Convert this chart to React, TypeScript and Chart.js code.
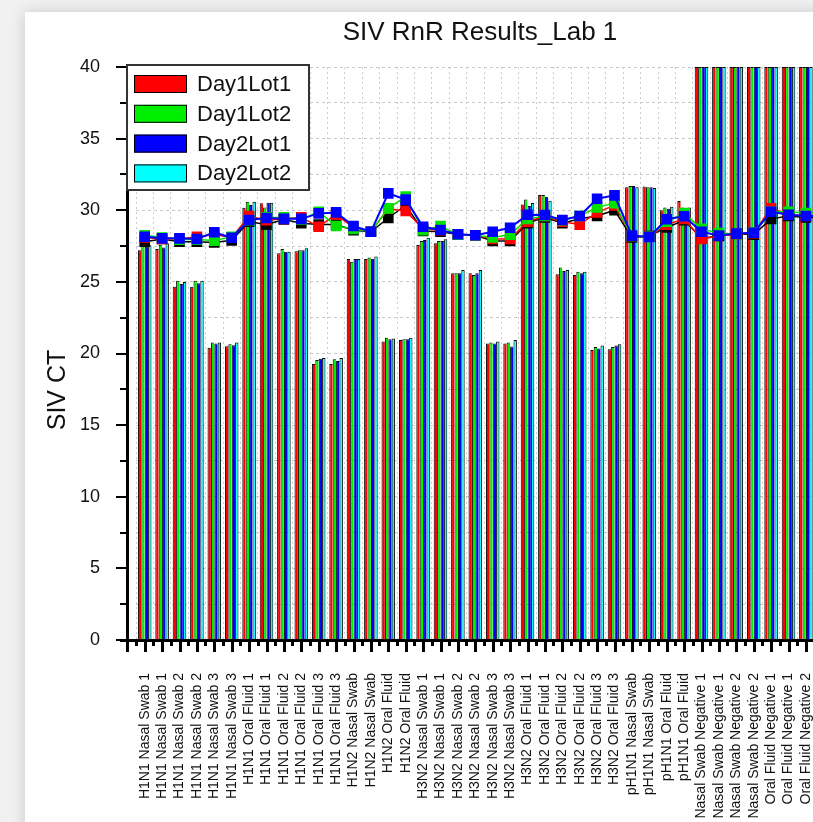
import React, { useEffect, useRef } from 'react';
import { Chart, registerables } from 'chart.js';
Chart.register(...registerables);

const chartTitle = 'SIV RnR Results_Lab 1';
const yAxisTitle = 'SIV CT';

const categories = [
  'H1N1 Nasal Swab 1', 'H1N1 Nasal Swab 1', 'H1N1 Nasal Swab 2', 'H1N1 Nasal Swab 2', 'H1N1 Nasal Swab 3', 'H1N1 Nasal Swab 3',
  'H1N1 Oral Fluid 1', 'H1N1 Oral Fluid 1', 'H1N1 Oral Fluid 2', 'H1N1 Oral Fluid 2', 'H1N1 Oral Fluid 3', 'H1N1 Oral Fluid 3',
  'H1N2 Nasal Swab', 'H1N2 Nasal Swab', 'H1N2 Oral Fluid', 'H1N2 Oral Fluid',
  'H3N2 Nasal Swab 1', 'H3N2 Nasal Swab 1', 'H3N2 Nasal Swab 2', 'H3N2 Nasal Swab 2', 'H3N2 Nasal Swab 3', 'H3N2 Nasal Swab 3',
  'H3N2 Oral Fluid 1', 'H3N2 Oral Fluid 1', 'H3N2 Oral Fluid 2', 'H3N2 Oral Fluid 2', 'H3N2 Oral Fluid 3', 'H3N2 Oral Fluid 3',
  'pH1N1 Nasal Swab', 'pH1N1 Nasal Swab', 'pH1N1 Oral Fluid', 'pH1N1 Oral Fluid',
  'Nasal Swab Negative 1', 'Nasal Swab Negative 1', 'Nasal Swab Negative 2', 'Nasal Swab Negative 2',
  'Oral Fluid Negative 1', 'Oral Fluid Negative 1', 'Oral Fluid Negative 2', 'Oral Fluid Negative 2',
];

const seriesNames = ['Day1Lot1', 'Day1Lot2', 'Day2Lot1', 'Day2Lot2'];
const seriesColors = ['#ff0000', '#00ee00', '#0000ff', '#00ffff'];

const day1Lot1 = [27.2, 27.3, 24.66, 24.66, 20.4, 20.5, 30.18, 30.48, 27.0, 27.13, 19.27, 19.27, 26.6, 26.6, 20.83, 20.94, 27.57, 27.7, 25.6, 25.6, 20.7, 20.7, 30.4, 31.06, 25.53, 25.48, 20.25, 20.3, 31.6, 31.65, 30.0, 30.65, 40, 40, 40, 40, 40, 40, 40, 40];
const day1Lot2 = [27.5, 27.6, 25.08, 25.08, 20.76, 20.64, 30.6, 30.2, 27.3, 27.2, 19.55, 19.6, 26.4, 26.7, 21.1, 21.0, 27.85, 27.85, 25.6, 25.48, 20.76, 20.76, 30.75, 31.06, 26.0, 25.7, 20.45, 20.45, 31.7, 31.6, 30.2, 30.2, 40, 40, 40, 40, 40, 40, 40, 40];
const day2Lot1 = [27.45, 27.4, 24.85, 24.9, 20.7, 20.57, 30.37, 30.53, 27.1, 27.2, 19.64, 19.48, 26.6, 26.62, 21.0, 21.0, 27.92, 27.85, 25.6, 25.6, 20.7, 20.48, 30.3, 30.95, 25.76, 25.6, 20.35, 20.55, 31.7, 31.6, 30.1, 30.1, 40, 40, 40, 40, 40, 40, 40, 40];
const day2Lot2 = [27.55, 27.7, 25.0, 25.08, 20.76, 20.76, 30.6, 30.53, 27.1, 27.35, 19.69, 19.69, 26.6, 26.77, 21.05, 21.1, 28.08, 27.97, 25.83, 25.83, 20.83, 20.94, 30.5, 30.67, 25.83, 25.7, 20.55, 20.65, 31.6, 31.55, 30.25, 30.2, 40, 40, 40, 40, 40, 40, 40, 40];

// Overlaid marker lines (control CT values)
const lineRed = [28.1, 28.0, 28.0, 28.15, 28.3, 28.1, 29.6, 29.3, 29.4, 29.5, 28.85, 29.7, 28.8, 28.5, 30.1, 29.95, 28.7, 28.6, 28.3, 28.25, 28.0, 28.0, 29.2, 29.6, 29.2, 29.0, 29.85, 30.34, 28.2, 28.15, 29.0, 29.4, 28.0, 28.2, 28.35, 28.4, 30.14, 29.7, 29.6, 29.6];
const lineGreen = [28.25, 28.1, 27.95, 27.95, 27.88, 28.15, 29.3, 29.5, 29.5, 29.35, 29.9, 28.9, 28.7, 28.5, 30.13, 30.95, 28.6, 28.9, 28.3, 28.25, 28.1, 28.3, 29.4, 29.6, 29.3, 29.6, 30.2, 30.5, 28.2, 28.15, 29.2, 29.8, 28.7, 28.4, 28.35, 28.45, 29.9, 29.9, 29.8, 29.8];
const lineBlack = [27.8, 28.0, 27.8, 27.8, 27.75, 27.9, 29.2, 29.0, 29.35, 29.1, 29.0, 29.0, 28.6, 28.5, 29.46, 30.35, 28.55, 28.5, 28.3, 28.25, 27.85, 27.85, 29.1, 29.5, 29.1, 29.4, 29.6, 30.0, 28.1, 28.2, 28.8, 29.3, 28.05, 28.2, 28.35, 28.3, 29.4, 29.6, 29.5, 29.5];
const lineBlue = [28.15, 28.04, 28.04, 27.99, 28.46, 28.08, 29.32, 29.46, 29.4, 29.4, 29.78, 29.85, 28.9, 28.5, 31.18, 30.74, 28.85, 28.62, 28.32, 28.25, 28.5, 28.78, 29.69, 29.67, 29.32, 29.6, 30.8, 31.04, 28.23, 28.13, 29.37, 29.58, 28.5, 28.23, 28.37, 28.43, 29.9, 29.69, 29.6, 29.6];

const yTickLabels = [0, 5, 10, 15, 20, 25, 30, 35, 40];
const yMin = 0;
const yMax = 40;
const yStep = 2.5;

const FONT = 'Arial, "Liberation Sans", sans-serif';
const TEXT = '#111';

const decorPlugin = {
  id: 'decor',
  afterDraw(chart: any) {
    const { ctx, chartArea: ca, scales } = chart;
    const x = scales.x;
    const y = scales.y;
    ctx.save();
    ctx.fillStyle = '#000';
    const axX = ca.left - 8;
    const yTop = y.getPixelForValue(yMax);
    // y axis line
    ctx.fillRect(axX - 2, yTop - 2, 3, ca.bottom - yTop + 14);
    // x axis line
    ctx.fillRect(axX - 8, ca.bottom - 1, ca.right - axX + 40, 3);
    // y ticks
    for (let v = yMin; v <= yMax + 0.001; v += yStep) {
      const py = Math.round(y.getPixelForValue(v));
      const major = yTickLabels.includes(v);
      const len = major ? 10 : 6;
      ctx.fillRect(axX - 2 - len, py - 1, len, 2);
    }
    // x ticks
    const step = x.getPixelForValue(1) - x.getPixelForValue(0);
    for (let i = 0; i < categories.length; i++) {
      const px = Math.round(x.getPixelForValue(i));
      ctx.fillRect(px - 1, ca.bottom, 3, 12);
      const pb = Math.round(px - step / 2);
      ctx.fillRect(pb - 1, ca.bottom, 3, 6);
    }
    // legend
    const lx = axX - 1, ly = 53, lw = 182, lh = 125;
    ctx.fillStyle = '#fff';
    ctx.fillRect(lx, ly, lw, lh);
    ctx.strokeStyle = '#333';
    ctx.lineWidth = 2;
    ctx.strokeRect(lx, ly, lw, lh);
    ctx.font = `22px ${FONT}`;
    ctx.textBaseline = 'middle';
    ctx.textAlign = 'left';
    for (let i = 0; i < seriesNames.length; i++) {
      const cy = 72 + i * 29.8;
      ctx.fillStyle = seriesColors[i];
      ctx.fillRect(lx + 7, cy - 9, 53, 18);
      ctx.strokeStyle = '#000';
      ctx.lineWidth = 1;
      ctx.strokeRect(lx + 7.5, cy - 8.5, 52, 17);
      ctx.fillStyle = TEXT;
      ctx.fillText(seriesNames[i], lx + 70, cy + 1);
    }
    // title
    ctx.font = `26px ${FONT}`;
    ctx.textAlign = 'center';
    ctx.fillStyle = TEXT;
    ctx.fillText(chartTitle, chart.width / 2, 21);
    // y axis title
    ctx.translate(33, 378);
    ctx.rotate(-Math.PI / 2);
    ctx.font = `25px ${FONT}`;
    ctx.fillText(yAxisTitle, 0, 0);
    ctx.restore();
  },
};

function App() {
  const ref = useRef<HTMLCanvasElement | null>(null);
  useEffect(() => {
    if (!ref.current) return;
    const barSets = [day1Lot1, day1Lot2, day2Lot1, day2Lot2].map((d, i) => ({
      type: 'bar' as const,
      label: seriesNames[i],
      data: d,
      backgroundColor: seriesColors[i],
      borderColor: '#000',
      borderWidth: { top: 1, left: 1, right: i === 3 ? 1 : 0, bottom: 0 },
      borderSkipped: 'bottom' as const,
      categoryPercentage: 0.78,
      barPercentage: 1.0,
      order: 10,
    }));
    const lineDefs = [
      { data: lineBlack, color: '#000000', order: 4, width: 1.5 },
      { data: lineRed, color: '#ff0000', order: 3, width: 1.5 },
      { data: lineGreen, color: '#00e000', order: 2, width: 1.5 },
      { data: lineBlue, color: '#0000ff', order: 1, width: 2 },
    ];
    const lineSets = lineDefs.map((l) => ({
      type: 'line' as const,
      label: '',
      data: l.data,
      borderColor: l.color,
      backgroundColor: l.color,
      borderWidth: l.width,
      pointStyle: 'rect' as const,
      pointRadius: 7.5,
      pointBorderWidth: 0,
      pointBackgroundColor: l.color,
      fill: false,
      tension: 0,
      order: l.order,
    }));
    const chart = new Chart(ref.current, {
      type: 'bar',
      data: { labels: categories, datasets: [...barSets, ...lineSets] as any },
      options: {
        responsive: false,
        animation: false,
        layout: { padding: { top: 55, right: 103, left: 0, bottom: 0 } },
        plugins: { legend: { display: false }, tooltip: { enabled: false }, title: { display: false } },
        scales: {
          x: {
            afterFit: (s: any) => { s.height = 202; },
            grid: { display: true, offset: true, color: '#cccccc', lineWidth: 1, drawTicks: false },
            border: { display: false, dash: [2, 3] },
            ticks: {
              autoSkip: false, maxRotation: 90, minRotation: 90, padding: 33,
              font: { family: FONT, size: 14 }, color: TEXT,
            },
          },
          y: {
            min: yMin, max: yMax,
            afterFit: (s: any) => { s.width = 111; },
            grid: { color: '#c8c8c8', lineWidth: 1, drawTicks: false },
            border: { display: false, dash: [3, 3] },
            ticks: {
              stepSize: yStep, padding: 36,
              font: { family: FONT, size: 18 }, color: TEXT,
              callback: (v: any) => (yTickLabels.includes(Number(v)) ? String(v) : ''),
            },
          },
        },
      },
      plugins: [decorPlugin],
    });
    return () => chart.destroy();
  }, []);

  return (
    <div style={{ position: 'fixed', left: 0, top: 0, width: 813, height: 822, overflow: 'hidden', background: '#f1f1f1' }}>
      <div style={{ position: 'absolute', left: 25, top: 12, width: 910, height: 830, background: '#fff', boxShadow: '0 0 14px rgba(0,0,0,0.16)' }}>
        <canvas ref={ref} width={910} height={830} style={{ display: 'block' }} />
      </div>
    </div>
  );
}

export default App;
